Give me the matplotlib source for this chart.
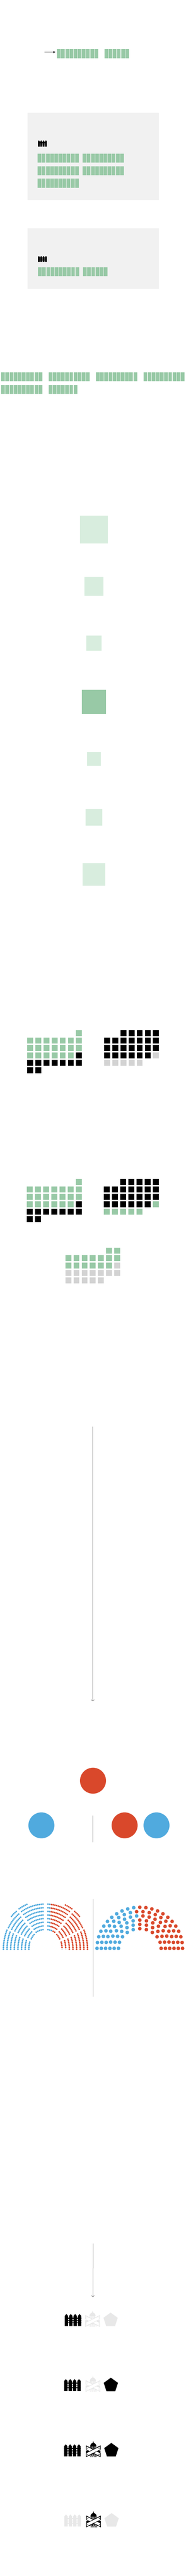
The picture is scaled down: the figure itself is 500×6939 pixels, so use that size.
import numpy as np
import matplotlib
matplotlib.use("Agg")
import matplotlib.pyplot as plt
from matplotlib.patches import Rectangle, Circle, Polygon, RegularPolygon

# ---------- data ----------
unit_counts_top = [16]
unit_counts_panel_a = [50]
unit_counts_panel_b = [16]
unit_counts_bottom = [57]
square_values = [5625, 2601, 1681, 4225, 1369, 2025, 3721]
square_highlight = [0, 0, 0, 1, 0, 0, 0]

waffle_a_left = [21, 10]
waffle_a_right = [25, 6]
waffle_b_left = [21, 10]
waffle_b_right = [25, 6]
waffle_b_third = [15, 13]

house_s1 = [5, 6, 7, 8, 9, 10, 11, 12]
house_s2 = [4, 5, 6, 7, 8, 9, 10, 11]
house_s3 = [5, 7, 8, 9, 11, 12, 13, 14]
house_extra_s2 = [5, 5]
house_extra_s3 = [6, 5]
house_blue_across = [3, 2, 2, 2, 2, 2, 2, 2]
house_vacant_rings = [0, 1]

senate_rings = [11, 13, 15, 18, 20, 23]
senate_parties = [47, 53]

fence_on = [1, 1, 1, 0]
capitol_on = [0, 0, 1, 1]
pentagon_on = [0, 1, 1, 0]

# ---------- styles ----------
GREEN = "#98c9a6"
PALE = "#d8edde"
PANEL = "#f1f1f1"
GREY = "#d3d3d3"
RED = "#d9482b"
BLUE = "#50aade"
LIGHT = "#e8e8e8"
VACANT = "#e9e9e9"

W, H = 500, 6939
fig = plt.figure(figsize=(W / 100, H / 100), dpi=100, facecolor="white")
ax = fig.add_axes([0, 0, 1, 1])
ax.set_xlim(0, W)
ax.set_ylim(H, 0)
ax.axis("off")


def rect(x, y, w, h, c, z=2):
    ax.add_patch(Rectangle((x, y), w, h, facecolor=c, edgecolor="none", zorder=z))


def units(count, x0, y0, groups_per_row, group_pitch, row_pitch, h=24.4):
    for i in range(count):
        group = i // 10
        row = group // groups_per_row
        col = group % groups_per_row
        rect(x0 + col * group_pitch + (i % 10) * 11.17, y0 + row * row_pitch, 9.9, h, GREEN)


def waffle(counts, colours, x0, y0, offset, cols=7):
    idx = offset
    for n, c in zip(counts, colours):
        for _ in range(n):
            r, k = divmod(idx, cols)
            rect(x0 + k * 21.9, y0 + r * 20, 15.8, 15.8, c)
            idx += 1


def fence(x, y, w, h, c, bg="white"):
    z = 3
    for i in range(4):
        l = x + i * 0.265 * w
        pw = 0.203 * w
        ax.add_patch(Polygon([(l, y + h), (l, y + .155 * h), (l + pw / 2, y), (l + pw, y + .155 * h), (l + pw, y + h)],
                             closed=True, facecolor=c, edgecolor="none", zorder=z))
    for a, b in [(.30, .39), (.526, .58), (.705, .76)]:
        rect(x, y + a * h, w, (b - a) * h, c, z)


def capitol(x, y, w, h, c):
    X = lambda u: x + np.asarray(u) * w
    Y = lambda v: y + np.asarray(v) * h
    def poly(us, vs, col, z):
        ax.add_patch(Polygon(np.column_stack([X(us), Y(vs)]), closed=True, facecolor=col, edgecolor="none", zorder=z))
    z = 3
    poly([.5, .46, .54], [0, .14, .14], c, z)
    th = np.linspace(0, np.pi, 30)
    poly(.5 + .21 * np.cos(th), .34 - .22 * np.sin(th), c, z)
    for u in np.linspace(.31, .65, 6):
        poly([u, u + .04, u + .04, u], [.34, .34, .52, .52], c, z)
    poly([.01, .99, .99, .01], [.60, .60, .90, .90], c, z)
    for u in np.linspace(.28, .70, 8):
        poly([u, u + .025, u + .025, u], [.82, .82, 1.0, 1.0], "white", z + .1)
        poly([u + .025, u + .05, u + .05, u + .025], [.82, .82, 1.0, 1.0], c, z + .1)
    for k, flip in enumerate([False, True]):
        f = (lambda u: 1 - np.asarray(u)) if flip else (lambda u: np.asarray(u))
        zz = z + .2 + k * .2
        poly(f([0, 1, 1, 0]), [.27, .74, 1.0, .53], c, zz)
        poly(f([.045, .955, .955, .045]), [.345, .745, .93, .53], "white", zz + .05)
        for u, v in [(.11, .445), (.89, .82)]:
            ax.add_patch(Circle((X(f(u)), Y(v)), .028 * w, facecolor=c, edgecolor="none", zorder=zz + .1))


def vline(y0, y1, col, lw=1.3, x=249.5):
    ax.plot([x, x], [y0, y1], color=col, lw=lw * .72, solid_capstyle="butt", zorder=2)


def chevron(y, col, x=249.5):
    ax.plot([x - 4, x, x + 4], [y - 3.5, y, y - 3.5], color=col, lw=1.0, solid_capstyle="butt", zorder=2)


def dot(x, y, r, c):
    ax.add_patch(Circle((x, y), r, facecolor=c, edgecolor="none", zorder=3))


# ---------- section 1: unit bars ----------
ax.plot([119, 146], [140.3, 140.3], color="#555555", lw=.75, solid_capstyle="butt", zorder=2)
ax.add_patch(Polygon([(149, 140.3), (143.5, 137.3), (143.5, 143.3)], closed=True, facecolor="black", edgecolor="none", zorder=3))
units(unit_counts_top[0], 153.3, 132, 2, 127.7, 33.6, 24.7)

rect(74, 304, 352.5, 235, PANEL, 1)
fence(102, 378, 24, 17, "black")
units(unit_counts_panel_a[0], 101.3, 414, 2, 121, 33.6)

rect(74, 615, 352.5, 163, PANEL, 1)
fence(102, 689.5, 24, 16.5, "black")
units(unit_counts_panel_b[0], 102.2, 720, 2, 121, 33.6)

units(unit_counts_bottom[0], 3.3, 1003, 4, 127.4, 34)

# ---------- section 2: scaled squares ----------
square_centres = [1426, 1579, 1732.5, 1890.5, 2044.7, 2201.6, 2355.7]
for v, hl, cy in zip(square_values, square_highlight, square_centres):
    side = np.sqrt(v)
    rect(252.3 - side / 2, cy - side / 2, side, side, GREEN if hl else PALE)

# ---------- section 3: waffles ----------
waffle(waffle_a_left, [GREEN, "black"], 73, 2775.3, 6)
waffle(waffle_a_right, ["black", GREY], 280, 2775.3, 2)
waffle(waffle_b_left, [GREEN, "black"], 72.3, 3176.3, 6)
waffle(waffle_b_right, ["black", GREEN], 279.3, 3176.3, 2)
waffle(waffle_b_third, [GREEN, GREY], 175.7, 3361, 5)

# ---------- section 4: lines and circles ----------
vline(3843, 4581, "#b5b5b5", 1.5, 249.3)
chevron(4582, "#888888", 249.3)

dot(250, 4796.7, 35, RED)
dot(111.3, 4917, 35, BLUE)
dot(335, 4917, 35, RED)
dot(420.7, 4917, 35, BLUE)
vline(4890, 4961.5, "#9a9a9a", 1.2, 249.2)

vline(5115, 5378, "#c4c4c4", 1.4, 249.6)

# ---------- section 5: house hemicycle ----------
HX, HY = 122.2, 5250.7
HR = 2.15
rings = (134 + np.arange(9) * 29.3) / 3
frac = (rings - rings[0]) / (rings[7] - rings[0])


def house_points(ring, n, a0, a1, cx_shift, cy_shift, extra_ry=0.0):
    t = np.radians(np.linspace(a0, a1, n))
    r = rings[ring]
    return cx_shift + r * np.cos(t), cy_shift + (r + extra_ry) * np.sin(t)


for side in (-1, 1):
    for ring in range(8):
        # lower sector
        end = 18.6 + 4.9 * frac[ring]
        dx, dy = house_points(ring, house_s1[ring], 0, end, 0, 0, 15.3)
        for i, (a, b) in enumerate(zip(dx, dy)):
            c = BLUE if side < 0 else RED
            if side > 0 and i == 0 and ring in house_vacant_rings:
                c = VACANT
            dot(HX + side * a, HY - b, HR, c)
        # middle sector
        a0 = 24.1 + 1.3 * frac[ring]
        a1 = 42 + 6.7 * frac[ring]
        dx, dy = house_points(ring, house_s2[ring], a0, a1, -2.7, 9.7)
        for a, b in zip(dx, dy):
            dot(HX + side * a, HY - b, HR, BLUE if side < 0 else RED)
        # top sector
        r = rings[ring]
        a0 = 56.3 - 0.9 * frac[ring]
        a1 = np.degrees(np.arccos(6.67 / r))
        dx, dy = house_points(ring, house_s3[ring], a0, a1, 0, 8.7)
        for i, (a, b) in enumerate(zip(dx, dy)):
            if side < 0:
                c = BLUE
            else:
                c = BLUE if (house_s3[ring] - 1 - i) < house_blue_across[ring] else RED
            dot(HX + side * a, HY - b, HR, c)
    k = 0 if side < 0 else 1
    dx, dy = house_points(8, house_extra_s2[k], 40, 48.6, -2.7, 9.7)
    for a, b in zip(dx, dy):
        dot(HX + side * a, HY - b, HR, BLUE if side < 0 else RED)
    dx, dy = house_points(8, house_extra_s3[k], 54.8, 66 if side < 0 else 64, 0, 8.7)
    for a, b in zip(dx, dy):
        dot(HX + side * a, HY - b, HR, BLUE if side < 0 else RED)

# ---------- section 6: senate hemicycle ----------
SX, SY = 375.8, 5248.3
SR = 4.8
seats = []
for i, n in enumerate(senate_rings):
    rx = (172 + i * 34.6) / 3
    ry = rx - 4.3
    for t in np.linspace(np.pi, 0, n):
        seats.append((t, SX + rx * np.cos(t), SY - ry * np.sin(t)))
seats.sort(key=lambda s: -s[0])
colours = [BLUE] * senate_parties[0] + [RED] * senate_parties[1]
for (t, x, y), c in zip(seats, colours):
    dot(x, y, SR, c)

# ---------- section 7: icon rows ----------
vline(6042.7, 6110, "#a0a0a0", 1.1, 249.7)
vline(6110, 6186, "#bdbdbd", 1.7, 249.7)
chevron(6187, "#888888", 249.7)

fence_x = [174, 172.5, 172.3, 173]
capitol_x = [229, 230, 231, 231.7]
pentagon_x = [297.3, 298, 299.3, 300]
icon_base = [6265.7, 6441, 6616.7, 6805.7]
for f, c, p, fx, cx, px, base in zip(fence_on, capitol_on, pentagon_on, fence_x, capitol_x, pentagon_x, icon_base):
    fence(fx, base - 32.5, 44.5, 32.5, "black" if f else LIGHT)
    capitol(cx, base + 2.4 - 44, 39.5, 44, "black" if c else LIGHT)
    R = 19.8
    ax.add_patch(RegularPolygon((px, base - .809 * R), 5, radius=R, orientation=np.pi,
                                facecolor="black" if p else LIGHT, edgecolor="black" if p else LIGHT,
                                lw=.5, joinstyle="round", zorder=3))

fig.savefig("out.png", dpi=100, facecolor="white")
